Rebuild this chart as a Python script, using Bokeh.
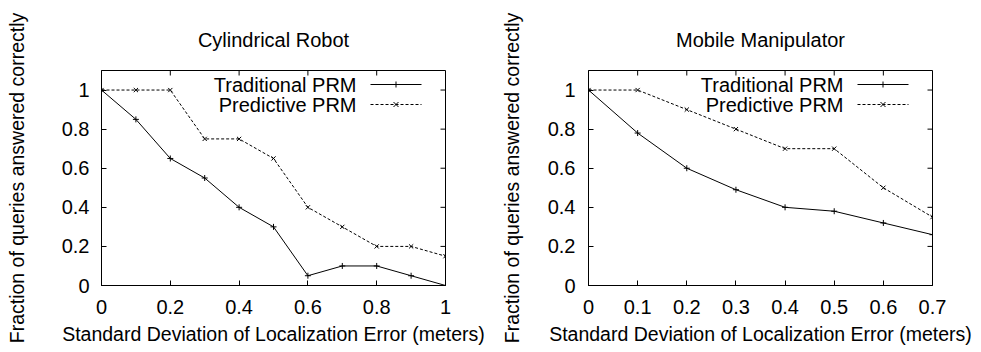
import math
from bokeh.plotting import figure
from bokeh.layouts import row
from bokeh.models import Range1d, FixedTicker, PrintfTickFormatter, Label, Arrow
from bokeh.embed import file_html
from bokeh.resources import INLINE

# ---------------- data ----------------
cyl_x = [0.0, 0.1, 0.2, 0.3, 0.4, 0.5, 0.6, 0.7, 0.8, 0.9, 1.0]
cyl_traditional = [1.0, 0.85, 0.65, 0.55, 0.40, 0.30, 0.05, 0.10, 0.10, 0.05, 0.0]
cyl_predictive = [1.0, 1.0, 1.0, 0.75, 0.75, 0.65, 0.40, 0.30, 0.20, 0.20, 0.15]

mob_x = [0.0, 0.1, 0.2, 0.3, 0.4, 0.5, 0.6, 0.7]
mob_traditional = [1.0, 0.78, 0.60, 0.49, 0.40, 0.38, 0.32, 0.26]
mob_predictive = [1.0, 1.0, 0.90, 0.80, 0.70, 0.70, 0.50, 0.35]

cyl_xticks = [0, 0.2, 0.4, 0.6, 0.8, 1.0]
mob_xticks = [0, 0.1, 0.2, 0.3, 0.4, 0.5, 0.6, 0.7]
yticks = [0, 0.2, 0.4, 0.6, 0.8, 1.0]
y_max = 1.1

titles = ["Cylindrical Robot", "Mobile Manipulator"]
series_names = ["Traditional PRM", "Predictive PRM"]
x_label = "Standard Deviation of Localization Error (meters)"
y_label = "Fraction of queries answered correctly"

FONT = "Liberation Sans"


def seg(p, x0, y0, x1, y1, dash="solid"):
    p.add_layout(Arrow(start=None, end=None, x_start=x0, y_start=y0, x_end=x1, y_end=y1,
                       start_units="screen", end_units="screen",
                       line_color="black", line_width=1, line_dash=dash))


def make_plot(title, xs, trad, pred, xticks, xmax, width, border_left, border_right,
              tick_standoff_y, label_standoff_y):
    p = figure(width=width, height=352, output_backend="svg", toolbar_location=None,
               x_range=Range1d(0, xmax), y_range=Range1d(0, y_max),
               min_border_left=border_left, min_border_right=border_right,
               min_border_top=70, min_border_bottom=67)
    p.title.text = title
    p.title.align = "center"
    p.title.text_font = FONT
    p.title.text_font_size = "20px"
    p.title.text_font_style = "normal"
    p.title.text_color = "black"
    p.title.standoff = 39
    p.grid.visible = False
    p.outline_line_color = "black"
    p.outline_line_width = 1
    p.background_fill_color = "white"
    p.border_fill_color = "white"

    for ax in (p.xaxis[0], p.yaxis[0]):
        ax.axis_line_color = "black"
        ax.major_tick_line_color = "black"
        ax.major_tick_in = 5
        ax.major_tick_out = 0
        ax.minor_tick_line_color = None
        ax.major_label_text_font = FONT
        ax.major_label_text_font_size = "20px"
        ax.major_label_text_color = "black"
        ax.axis_label_text_font = FONT
        ax.axis_label_text_font_size = "19.5px"
        ax.axis_label_text_font_style = "normal"
        ax.axis_label_text_color = "black"
        ax.formatter = PrintfTickFormatter(format="%g")

    p.xaxis[0].ticker = FixedTicker(ticks=xticks)
    p.yaxis[0].ticker = FixedTicker(ticks=yticks)
    p.xaxis[0].axis_label = x_label
    p.yaxis[0].axis_label = y_label
    p.xaxis[0].major_label_standoff = 14
    p.xaxis[0].axis_label_standoff = 6
    p.yaxis[0].major_label_standoff = tick_standoff_y
    p.yaxis[0].axis_label_standoff = label_standoff_y

    # mirrored inward tick marks on the top and right edges of the frame
    p.ray(x=xticks, y=[y_max] * len(xticks), length=5, length_units="screen",
          angle=-math.pi / 2, line_color="black", line_width=1)
    p.ray(x=[xmax] * len(yticks), y=yticks, length=5, length_units="screen",
          angle=math.pi, line_color="black", line_width=1)

    p.line(xs, trad, line_color="black", line_width=1)
    p.scatter(xs, trad, marker="cross", size=6, line_color="black", line_width=1)
    p.line(xs, pred, line_color="black", line_width=1, line_dash="3 2")
    p.scatter(xs, pred, marker="x", size=6, line_color="black", line_width=1)

    # gnuplot-style key (screen units relative to the frame): text, then sample
    key_text_right, key_x0, key_x1 = 255, 269, 320
    rows_y = [201, 181]
    cx = (key_x0 + key_x1) / 2
    for name, yy in zip(series_names, rows_y):
        p.add_layout(Label(x=key_text_right, y=yy, x_units="screen", y_units="screen",
                           text=name, text_align="right", text_baseline="middle",
                           text_font=FONT, text_font_size="20px", text_color="black"))
    # Traditional sample: solid line with "+"
    seg(p, key_x0, rows_y[0], key_x1, rows_y[0])
    seg(p, cx, rows_y[0] - 3, cx, rows_y[0] + 3)
    # Predictive sample: dashed line with "x"
    seg(p, key_x0, rows_y[1], key_x1, rows_y[1], dash="3 2")
    seg(p, cx - 2.5, rows_y[1] - 2.5, cx + 2.5, rows_y[1] + 2.5)
    seg(p, cx - 2.5, rows_y[1] + 2.5, cx + 2.5, rows_y[1] - 2.5)
    return p


p1 = make_plot(titles[0], cyl_x, cyl_traditional, cyl_predictive, cyl_xticks, 1.0,
               490, 101, 45, 12, 31)
p2 = make_plot(titles[1], mob_x, mob_traditional, mob_predictive, mob_xticks, 0.7,
               491, 98, 49, 13, 22)

layout = row(p1, p2)
open("out.html", "w").write(file_html(layout, INLINE))
